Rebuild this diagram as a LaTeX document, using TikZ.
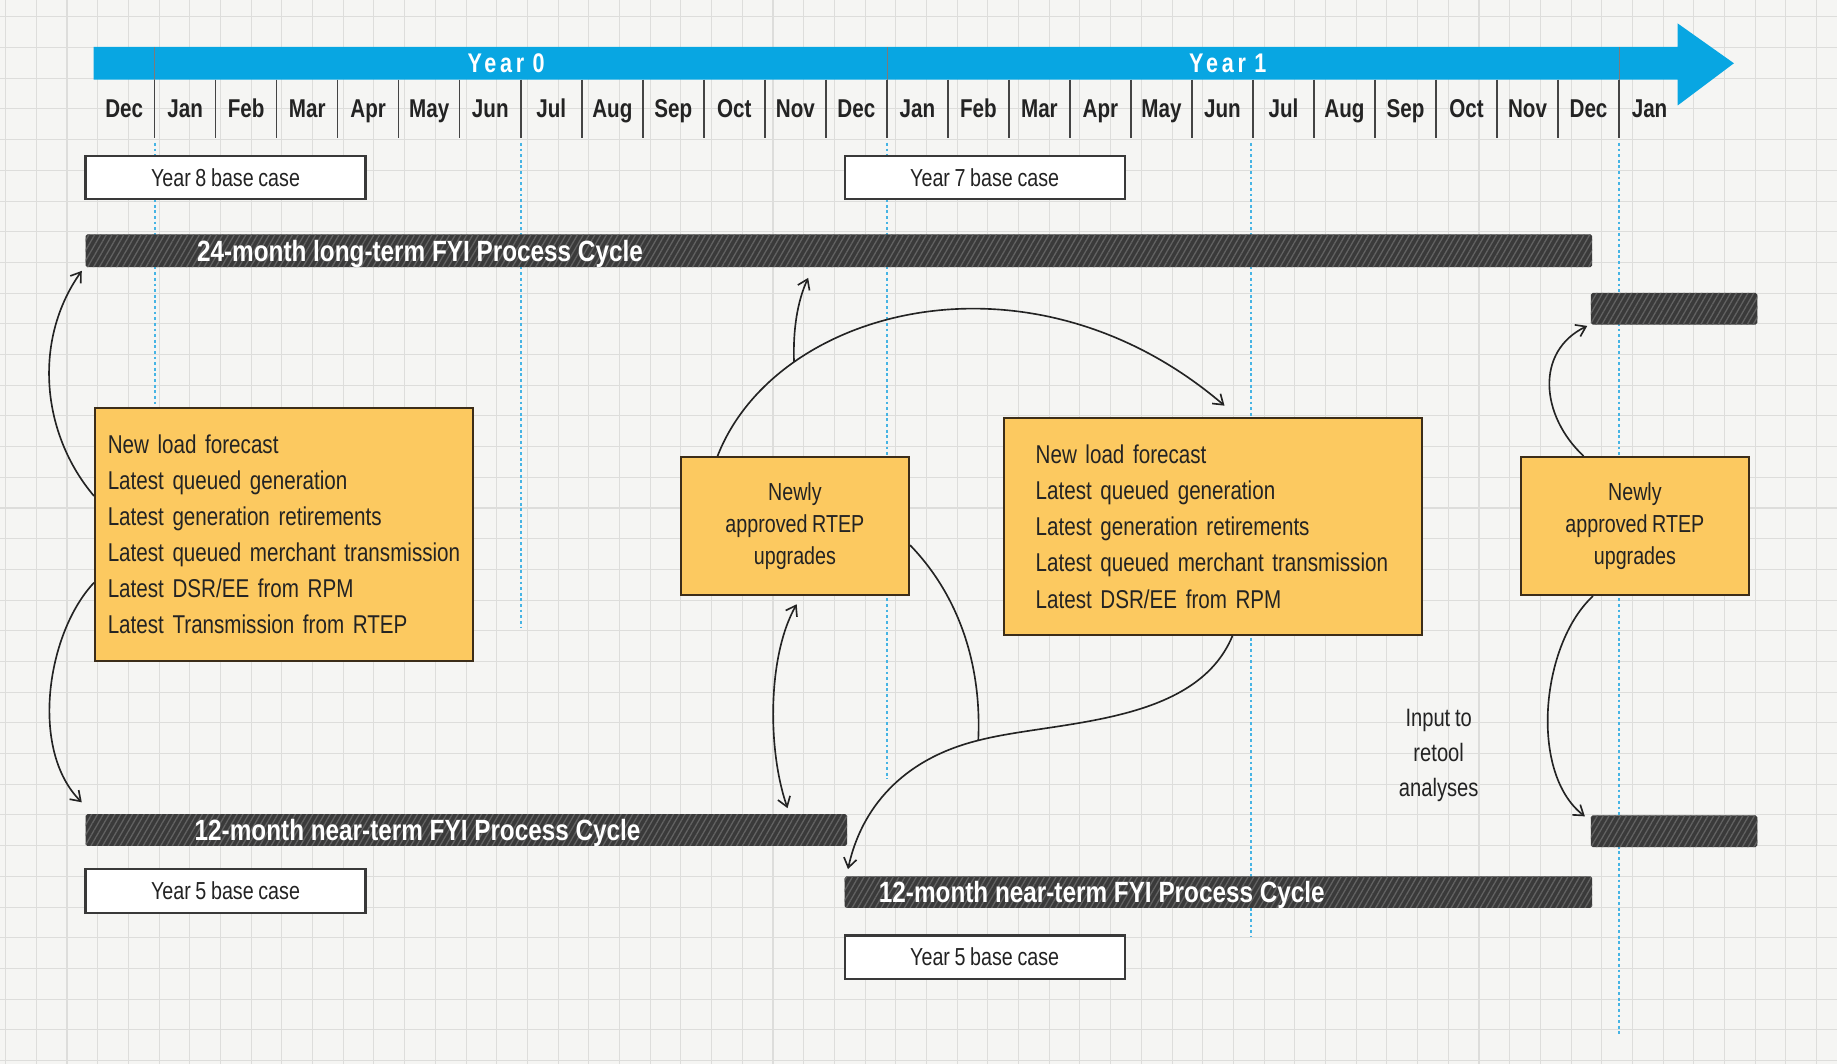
\documentclass[tikz,border=0pt]{standalone}
\usepackage{fontspec}
\setmainfont{Liberation Sans}
\newfontfamily\cond[FakeStretch=0.8,WordSpace=0.85]{Liberation Sans}
\newfontfamily\condbar[FakeStretch=0.83]{Liberation Sans}
\usetikzlibrary{arrows.meta,patterns.meta,calc}
\definecolor{bg}{RGB}{245,245,243}
\definecolor{gridc}{RGB}{221,221,219}
\definecolor{tlblue}{RGB}{8,166,226}
\definecolor{dashblue}{RGB}{70,180,228}
\definecolor{boxyellow}{RGB}{252,201,96}
\definecolor{boxedge}{RGB}{60,45,25}
\definecolor{bardark}{RGB}{58,58,58}
\definecolor{barlight}{RGB}{98,98,98}
\definecolor{ink}{RGB}{35,35,35}
\tikzset{
  monthlbl/.style={font=\cond\bfseries\fontsize{22}{26}\selectfont, text=ink, inner sep=0, anchor=base},
  yearlbl/.style={font=\cond\bfseries\addfontfeatures{LetterSpace=14}\fontsize{23}{26}\selectfont, text=white, inner sep=0, anchor=base},
  basebox/.style={draw=ink!90, line width=1.8pt, fill=white, minimum width=239pt, minimum height=37pt, inner sep=0, font=\cond\fontsize{21}{25}\selectfont, text=ink},
  bar/.style={fill=bardark, inner sep=0, rounded corners=1.5pt, postaction={pattern={Lines[angle=60,distance=4.3pt,line width=1.1pt]}, pattern color=barlight}},
  bartext/.style={font=\condbar\bfseries\fontsize{25}{28}\selectfont, text=white, inner sep=0, anchor=base west},
  ybox/.style={draw=boxedge, line width=1.5pt, fill=boxyellow, inner sep=0, text=ink},
  listtext/.style={font=\cond\fontsize{22}{30.8}\selectfont, align=left},
  midtext/.style={font=\cond\fontsize{21}{27}\selectfont, align=center},
  conn/.style={draw=ink, line width=1.4pt, -{Straight Barb[length=8pt,width=11pt]}},
  conn2/.style={draw=ink, line width=1.4pt, {Straight Barb[length=8pt,width=11pt]}-{Straight Barb[length=8pt,width=11pt]}},
  plainline/.style={draw=ink, line width=1.4pt},
  dashv/.style={dashblue, line width=1.7pt, dash pattern=on 2.4pt off 2.4pt},
  tickline/.style={ink!85, line width=1.3pt},
}
\begin{document}
\begin{tikzpicture}[x=1pt,y=-1pt]
\useasboundingbox (0,0) rectangle (1568,908);
\fill[bg] (0,0) rectangle (1568,908);
% grid
\foreach \k in {0,...,59} \draw[gridc, line width=0.9pt] ({4.8+26.2*\k},0) -- ({4.8+26.2*\k},908);
\foreach \k in {0,...,34} \draw[gridc, line width=0.9pt] (0,{14.4+26.2*\k}) -- (1568,{14.4+26.2*\k});
% dashed month guides
\draw[dashv] (132,122) -- (132,348);
\draw[dashv] (445,122) -- (445,535);
\draw[dashv] (757,122) -- (757,665);
\draw[dashv] (1068,122) -- (1068,800);
\draw[dashv] (1382,122) -- (1382,885);
% timeline arrow
\fill[tlblue] (80,40) -- (1432,40) -- (1432,20) -- (1480,54) -- (1432,90) -- (1432,68) -- (80,68) -- cycle;
\foreach \x in {132,757,1382} \draw[ink!60, line width=0.6pt] (\x,40) -- (\x,68);
\node[yearlbl] (y0) at (432,62) {Year 0};
\node[yearlbl] (y1) at (1048,62) {Year 1};
\foreach \k in {0,...,24} \draw[tickline] ({132+52.08*\k},68) -- ({132+52.08*\k},118);
\foreach \m [count=\i from 0] in {Dec,Jan,Feb,Mar,Apr,May,Jun,Jul,Aug,Sep,Oct,Nov,Dec,Jan,Feb,Mar,Apr,May,Jun,Jul,Aug,Sep,Oct,Nov,Dec,Jan}
  \node[monthlbl] (m\i) at ({106+52.08*\i},100) {\m};
% base case boxes
\node[basebox] (b8) at (192.5,151.5) {Year 8 base case};
\node[basebox] (b7) at (840.5,151.5) {Year 7 base case};
\node[basebox] (b5l) at (192.5,760.5) {Year 5 base case};
\node[basebox] (b5r) at (840.5,817) {Year 5 base case};
% bars
\node[bar, minimum width=1286pt, minimum height=28pt] (bar24) at (716,214) {};
\node[bartext] (t24) at (168,222.8) {24-month long-term FYI Process Cycle};
\node[bar, minimum width=142pt, minimum height=27pt] (bartr) at (1429,263.5) {};
\node[bar, minimum width=650pt, minimum height=27pt] (bar12L) at (398,708.5) {};
\node[bartext] (t12l) at (166,717.3) {12-month near-term FYI Process Cycle};
\node[bar, minimum width=142pt, minimum height=27pt] (barbr) at (1429,709.5) {};
\node[bar, minimum width=638pt, minimum height=27pt] (bar12R) at (1040,761.5) {};
\node[bartext] (t12r) at (750,770.3) {12-month near-term FYI Process Cycle};
% yellow boxes
\node[ybox, listtext, minimum width=323pt, minimum height=216pt, text width=301pt] (lbox) at (242.5,456)
  {New load forecast\\Latest queued generation\\Latest generation retirements\\Latest queued merchant transmission\\Latest DSR/EE from RPM\\Latest Transmission from RTEP};
\node[ybox, midtext, minimum width=195pt, minimum height=118pt] (mbox) at (678.5,449) {Newly\\approved RTEP\\upgrades};
\node[ybox, listtext, minimum width=357pt, minimum height=185pt, text width=303pt] (rbox) at (1035.5,449.5)
  {New load forecast\\Latest queued generation\\Latest generation retirements\\Latest queued merchant transmission\\Latest DSR/EE from RPM};
\node[ybox, midtext, minimum width=195pt, minimum height=118pt] (rsbox) at (1395.5,449) {Newly\\approved RTEP\\upgrades};
\node[midtext, font=\cond\fontsize{21.5}{30}\selectfont, text=ink, inner sep=0] (retool) at (1228,645) {Input to\\retool\\analyses};
% connectors
\coordinate (J) at (835,632);
\draw[conn] ($(lbox.north west)!0.35!(lbox.south west)$) .. controls (35,370) and (28,290) .. ($(bar24.south west)+(-3,3)$);
\draw[conn] ($(lbox.north west)!0.69!(lbox.south west)$) .. controls (40,540) and (25,640) .. ($(bar12L.north west)+(-3,-10)$);
\draw[conn] ($(mbox.north west)!0.164!(mbox.north east)$) .. controls (662,262) and (880,205) .. ($(rbox.north west)!0.527!(rbox.north east)+(0,-10)$) coordinate[pos=0.25] (arcpt);
\draw[conn] (arcpt) .. controls ($(arcpt)+(-1,-28)$) and ($(arcpt)+(3,-52)$) .. ($(bar24.south west)+(617,9)$);
\draw[conn2] ($(mbox.south)+(1.5,7)$) .. controls (655,560) and (655,640) .. ($(bar12L.north east)+(-51,-5)$);
\draw[plainline] ($(mbox.north east)!0.636!(mbox.south east)$) .. controls (820,510) and (838,570) .. (J);
\draw[conn] ($(rbox.south west)!0.546!(rbox.south east)$) .. controls (1020,620) and (900,615) .. (J) .. controls (770,648) and (735,690) .. ($(bar12R.north west)+(3,-6)$);
\draw[conn] ($(rsbox.north west)!0.277!(rsbox.north east)$) .. controls (1315,355) and (1310,300) .. ($(bartr.south west)+(-3,1)$);
\draw[conn] ($(rsbox.south west)!0.318!(rsbox.south east)$) .. controls (1315,550) and (1305,660) .. ($(barbr.north west)+(-5,1)$);
\end{tikzpicture}
\end{document}
